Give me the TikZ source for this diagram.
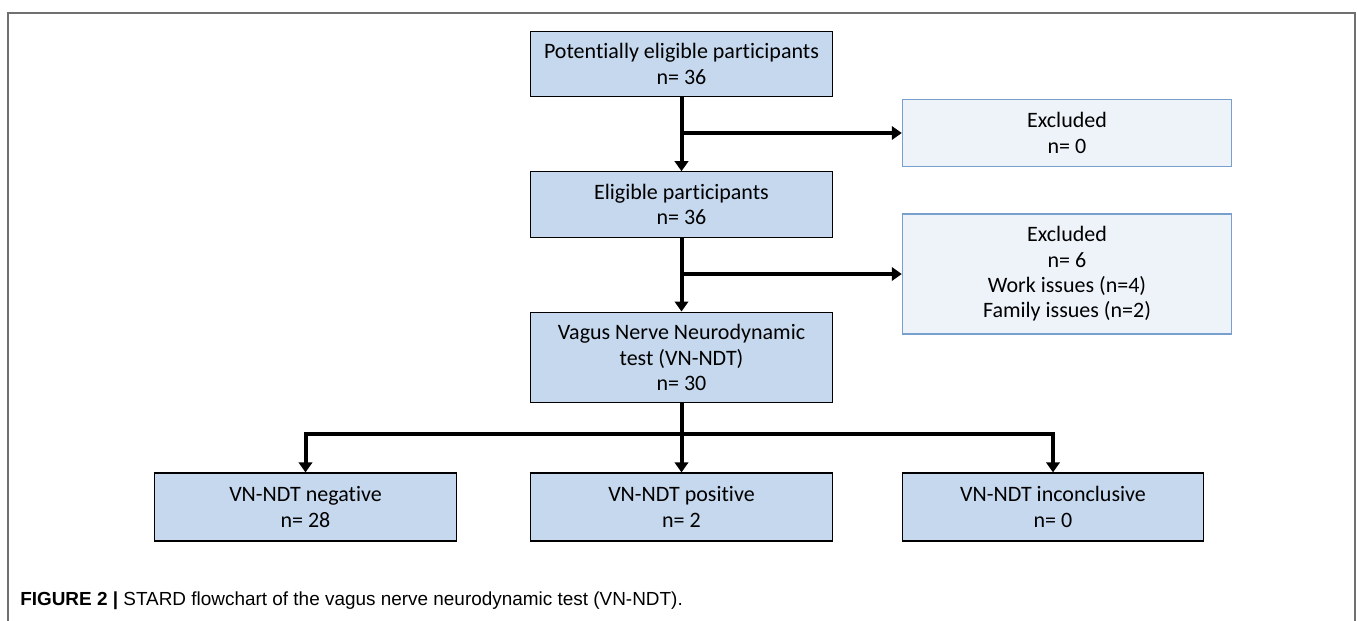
\documentclass[tikz,border=0pt]{standalone}
\usepackage{fontspec}
\setmainfont{Carlito}[Ligatures=NoCommon]
\newfontfamily\capfont{Liberation Sans}
\usetikzlibrary{arrows.meta}
\definecolor{boxblue}{RGB}{197,216,238}
\definecolor{palebox}{RGB}{238,243,250}
\definecolor{paleedge}{RGB}{120,160,205}
\definecolor{framegray}{RGB}{112,112,112}
\tikzset{
  stage/.style={draw=black, line width=0.9pt, fill=boxblue, align=center,
    minimum width=227pt, minimum height=49pt, inner sep=0pt,
    font=\fontsize{16.5}{19}\selectfont},
  outbox/.style={draw=paleedge, line width=0.8pt, fill=palebox, align=center,
    minimum width=247pt, minimum height=50pt, inner sep=0pt,
    font=\fontsize{16.5}{19}\selectfont},
  flow/.style={line width=3pt, -{Triangle[width=10pt,length=7.5pt]}}
}
\begin{document}
\begin{tikzpicture}[x=0.75pt,y=-0.75pt]
  \useasboundingbox (0,0) rectangle (1357,621);
  \draw[framegray, line width=1.6pt] (8,621) -- (8,13) -- (1355,13) -- (1355,621);
  \draw
    (681.5,64) node[stage] (pot){Potentially eligible participants\\n= 36}
    (681.5,204.5) node[stage] (elig){Eligible participants\\n= 36}
    (681.5,357.5) node[stage, minimum height=68pt] (vn){Vagus Nerve Neurodynamic\\test (VN-NDT)\\n= 30}
    (1067,133) node[outbox] (exa){Excluded\\n= 0}
    (1067,274) node[outbox, minimum height=90pt] (exb){Excluded\\n= 6\\Work issues (n=4)\\Family issues (n=2)}
    (305.5,507) node[stage, minimum width=226pt, minimum height=51pt] (neg){VN-NDT negative\\n= 28}
    (681.5,507) node[stage, minimum height=51pt] (pos){VN-NDT positive\\n= 2}
    (1053,507) node[stage, minimum width=226pt, minimum height=51pt] (inc){VN-NDT inconclusive\\n= 0};
  \coordinate (ja) at (pot.south |- exa.west);
  \coordinate (jb) at (elig.south |- exb.west);
  \coordinate (split) at (681.5,434);
  \coordinate (lt) at (neg.north |- split);
  \coordinate (rt) at (inc.north |- split);
  \begin{scope}[flow]
    \draw (pot) to (elig);
    \draw (ja) to (exa);
    \draw (elig) to (vn);
    \draw (jb) to (exb);
    \draw (vn) to (pos);
    \draw[line join=miter] (split) -- (lt) -- (neg);
    \draw[line join=miter] (split) -- (rt) -- (inc);
  \end{scope}
  \node[anchor=base west, inner sep=0pt, font=\capfont\fontsize{14.2}{16}\selectfont] (cap) at (20,605)
    {\textbf{FIGURE 2 |} STARD flowchart of the vagus nerve neurodynamic test (VN-NDT).};
\end{tikzpicture}
\end{document}
